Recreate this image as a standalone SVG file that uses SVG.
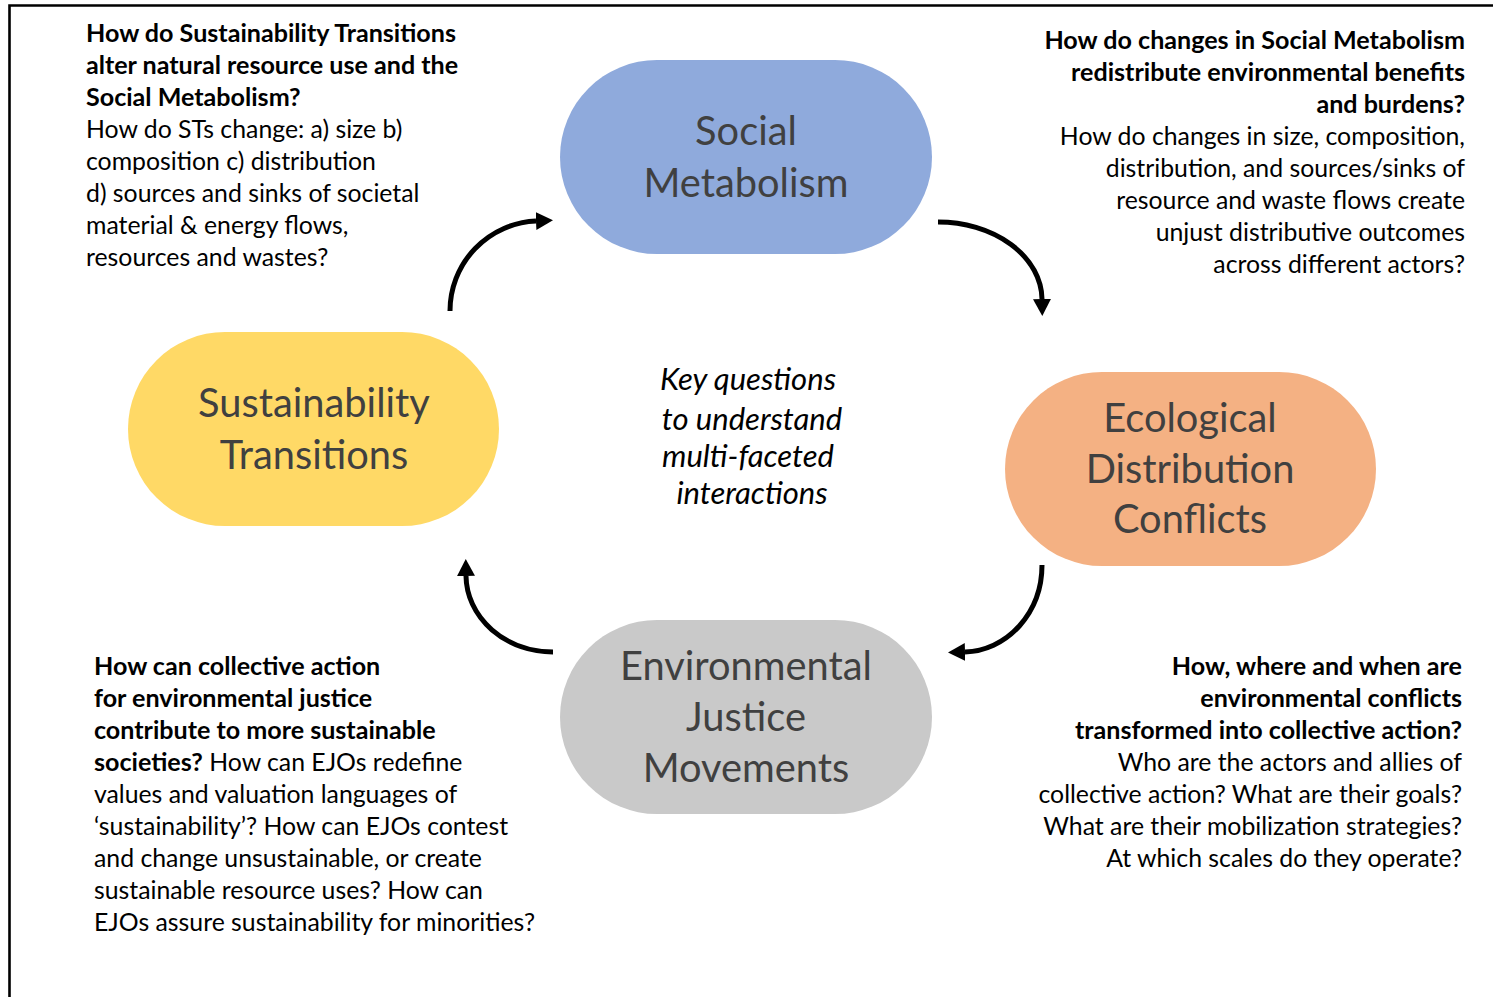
<svg xmlns="http://www.w3.org/2000/svg" width="1493" height="997" viewBox="0 0 1493 997">
<style>
.side{font-family:Lato,"Open Sans",sans-serif;font-size:24.8px;fill:#000}
.b{font-weight:bold;font-size:25.1px}
.r{text-anchor:end}
.node{font-family:Lato,"Open Sans",sans-serif;font-size:39.8px;fill:#404040;text-anchor:middle}
.center{font-family:Lato,"Open Sans",sans-serif;font-size:31px;font-style:italic;fill:#000;text-anchor:middle}
.arc{fill:none;stroke:#000;stroke-width:5;marker-end:url(#ah)}
</style>
<defs>
<marker id="ah" viewBox="0 0 17 18" refX="0" refY="9" markerWidth="17" markerHeight="18" markerUnits="userSpaceOnUse" orient="auto">
<path d="M0,0 L17,9 L0,18 z" fill="#000"/>
</marker>
</defs>
<rect width="1493" height="997" fill="#fff"/>
<path d="M9.5,997 V5.5 H1493" fill="none" stroke="#000" stroke-width="2.6"/>

<g id="node-social-metabolism">
<rect x="560" y="60" width="372" height="194" rx="97" fill="#8FAADC"/>
<text class="node" x="746" y="145">Social</text>
<text class="node" x="746" y="197">Metabolism</text>
</g>
<g id="node-sustainability-transitions">
<rect x="128" y="332" width="371" height="194" rx="97" fill="#FFD966"/>
<text class="node" x="314" y="417">Sustainability</text>
<text class="node" x="314" y="469">Transitions</text>
</g>
<g id="node-ecological-distribution-conflicts">
<rect x="1005" y="372" width="371" height="194" rx="97" fill="#F4B183"/>
<text class="node" x="1190" y="432">Ecological</text>
<text class="node" x="1190" y="483">Distribution</text>
<text class="node" x="1190" y="533">Conflicts</text>
</g>
<g id="node-environmental-justice-movements">
<rect x="560" y="620" width="372" height="194" rx="97" fill="#C9C9C9"/>
<text class="node" x="746" y="680">Environmental</text>
<text class="node" x="746" y="731">Justice</text>
<text class="node" x="746" y="782">Movements</text>
</g>

<g id="connectors">
<path class="arc" d="M450,311 A90,90 0 0 1 536,221"/>
<path class="arc" d="M938,222 A104,78 0 0 1 1042,299"/>
<path class="arc" d="M1042,565 A79,87 0 0 1 965,652"/>
<path class="arc" d="M553,652 A87,77 0 0 1 466,576"/>
</g>

<g id="center-label">
<text class="center" x="748" y="390">Key questions</text>
<text class="center" x="752" y="430">to understand</text>
<text class="center" x="748" y="467">multi-faceted</text>
<text class="center" x="752" y="504">interactions</text>
</g>

<g id="text-top-left">
<text class="side b" x="86" y="42">How do Sustainability Transitions</text>
<text class="side b" x="86" y="74">alter natural resource use and the</text>
<text class="side b" x="86" y="106">Social Metabolism?</text>
<text class="side" x="86" y="138">How do STs change: a) size b)</text>
<text class="side" x="86" y="170">composition c) distribution</text>
<text class="side" x="86" y="202">d) sources and sinks of societal</text>
<text class="side" x="86" y="234">material &amp; energy flows,</text>
<text class="side" x="86" y="266">resources and wastes?</text>
</g>

<g id="text-top-right">
<text class="side b r" x="1465" y="49">How do changes in Social Metabolism</text>
<text class="side b r" x="1465" y="81">redistribute environmental benefits</text>
<text class="side b r" x="1465" y="113">and burdens?</text>
<text class="side r" x="1465" y="145">How do changes in size, composition,</text>
<text class="side r" x="1465" y="177">distribution, and sources/sinks of</text>
<text class="side r" x="1465" y="209">resource and waste flows create</text>
<text class="side r" x="1465" y="241">unjust distributive outcomes</text>
<text class="side r" x="1465" y="273">across different actors?</text>
</g>

<g id="text-bottom-left">
<text class="side b" x="94" y="675">How can collective action</text>
<text class="side b" x="94" y="707">for environmental justice</text>
<text class="side b" x="94" y="739">contribute to more sustainable</text>
<text class="side" x="94" y="771"><tspan class="b">societies?</tspan> How can EJOs redefine</text>
<text class="side" x="94" y="803">values and valuation languages of</text>
<text class="side" x="94" y="835">‘sustainability’? How can EJOs contest</text>
<text class="side" x="94" y="867">and change unsustainable, or create</text>
<text class="side" x="94" y="899">sustainable resource uses? How can</text>
<text class="side" x="94" y="931">EJOs assure sustainability for minorities?</text>
</g>

<g id="text-bottom-right">
<text class="side b r" x="1462" y="675">How, where and when are</text>
<text class="side b r" x="1462" y="707">environmental conflicts</text>
<text class="side b r" x="1462" y="739">transformed into collective action?</text>
<text class="side r" x="1462" y="771">Who are the actors and allies of</text>
<text class="side r" x="1462" y="803">collective action? What are their goals?</text>
<text class="side r" x="1462" y="835">What are their mobilization strategies?</text>
<text class="side r" x="1462" y="867">At which scales do they operate?</text>
</g>
</svg>
